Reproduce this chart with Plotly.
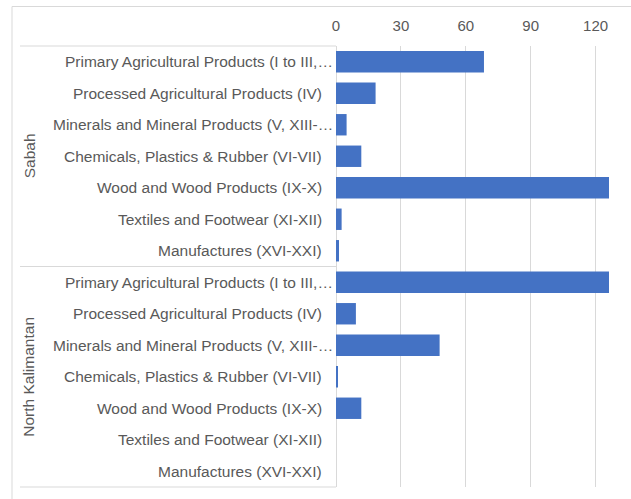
import plotly.graph_objects as go

# Trade by product group, per region (horizontal bars, value axis on top)
regions = ["Sabah", "North Kalimantan"]
products = [
    "Primary Agricultural Products (I to III,…",
    "Processed Agricultural Products (IV)",
    "Minerals and Mineral Products (V, XIII-…",
    "Chemicals, Plastics & Rubber (VI-VII)",
    "Wood and Wood Products (IX-X)",
    "Textiles and Footwear (XI-XII)",
    "Manufactures (XVI-XXI)",
]
sabah_values = [68.4, 18.3, 4.9, 11.7, 140.0, 2.6, 1.4]
north_kalimantan_values = [135.0, 9.2, 47.9, 0.8, 11.7, 0.0, 0.0]
x_ticks = [0, 30, 60, 90, 120]
x_max = 126.2

values_by_region = {"Sabah": sabah_values, "North Kalimantan": north_kalimantan_values}

# unique category keys: one row per (region, product)
row_keys, row_values, row_labels = [], [], []
for region in regions:
    for product, v in zip(products, values_by_region[region]):
        row_keys.append(f"{region}|{product}")
        row_values.append(v)
        row_labels.append(product)

W, H = 631, 499
L, R, T, B = 336, 22, 46, 12
pw, ph = W - L - R, H - T - B


def px_x(x):
    return (x - L) / pw


def px_y(y):
    return (H - B - y) / ph


FONT = "Liberation Sans, Arial, sans-serif"
TXT = "#595959"
LINE = "#D9D9D9"
BLUE = "#4472C4"

fig = go.Figure(
    go.Bar(
        x=row_values,
        y=row_keys,
        orientation="h",
        width=0.68,
        marker=dict(color=BLUE, line=dict(width=0)),
        hoverinfo="x+y",
    )
)

annotations = []
for key, label in zip(row_keys, row_labels):
    truncated = label.endswith("…")
    annotations.append(
        dict(
            x=px_x(335 if truncated else 324),
            xref="paper",
            y=key,
            yref="y",
            text=label,
            showarrow=False,
            xanchor="right",
            yanchor="middle",
            font=dict(family=FONT, size=15.5, color=TXT),
        )
    )

# rotated region labels, centred on each group of rows
for i, region in enumerate(regions):
    annotations.append(
        dict(
            x=px_x(29),
            xref="paper",
            y=1 - (i + 0.5) / len(regions),
            yref="paper",
            text=region,
            showarrow=False,
            textangle=-90,
            xanchor="center",
            yanchor="middle",
            font=dict(family=FONT, size=15.5, color=TXT),
        )
    )

shapes = []
# category box: top, group divider, bottom
for yy in [1.0, 0.5, 0.0]:
    shapes.append(
        dict(type="line", xref="paper", yref="paper",
             x0=px_x(20), x1=0, y0=yy, y1=yy,
             line=dict(color=LINE, width=1))
    )
# chart frame (top and left edges)
shapes.append(dict(type="line", xref="paper", yref="paper",
                   x0=px_x(12), x1=px_x(660), y0=px_y(6.5), y1=px_y(6.5),
                   line=dict(color=LINE, width=1)))
shapes.append(dict(type="line", xref="paper", yref="paper",
                   x0=px_x(12), x1=px_x(12), y0=px_y(6.5), y1=px_y(520),
                   line=dict(color=LINE, width=1)))

fig.update_layout(
    width=W,
    height=H,
    margin=dict(l=L, r=R, t=T, b=B, pad=0),
    paper_bgcolor="white",
    plot_bgcolor="white",
    showlegend=False,
    bargap=0.32,
    annotations=annotations,
    shapes=shapes,
    xaxis=dict(
        side="top",
        range=[0, x_max],
        tickvals=x_ticks,
        ticktext=[str(t) for t in x_ticks],
        showgrid=True,
        gridcolor=LINE,
        gridwidth=1,
        zeroline=True,
        zerolinecolor=LINE,
        zerolinewidth=1,
        showline=False,
        ticks="",
        ticklabelstandoff=11,
        tickfont=dict(family=FONT, size=15, color=TXT),
        fixedrange=True,
    ),
    yaxis=dict(
        type="category",
        categoryorder="array",
        categoryarray=row_keys,
        autorange="reversed",
        showticklabels=False,
        showgrid=False,
        zeroline=False,
        showline=False,
        ticks="",
        fixedrange=True,
    ),
)

fig.write_html("out.html")
